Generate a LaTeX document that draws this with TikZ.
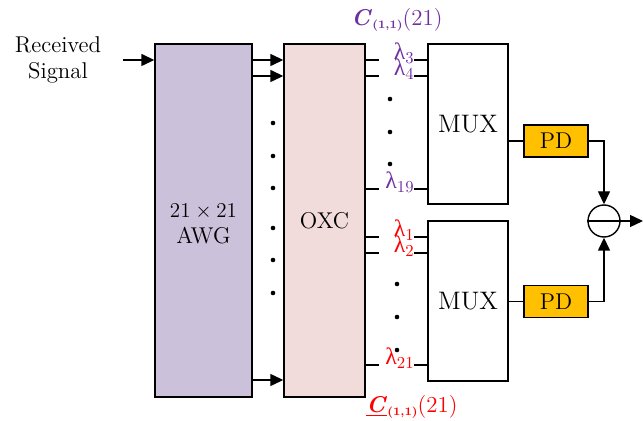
\documentclass[tikz,border=0pt]{standalone}
\usepackage{fontspec}
\usepackage{tikz}
\usetikzlibrary{arrows.meta,positioning,calc}
\newfontfamily\grk{Liberation Serif}
\definecolor{lilac}{RGB}{204,193,218}
\definecolor{blush}{RGB}{242,220,219}
\definecolor{amber}{RGB}{255,192,0}
\definecolor{grape}{RGB}{112,48,160}
\definecolor{scarlet}{RGB}{255,0,0}
\newcommand{\txt}{\fontsize{13}{15}\selectfont}
\newcommand{\sub}{\raisebox{-0.35ex}{\fontsize{6.5}{7}\selectfont\textbf{(1,1)}}(21)}
\newcommand{\lam}[1]{{\grk λ}\raisebox{-0.3ex}{\fontsize{9.5}{10}\selectfont #1}}
\tikzset{
  >={Triangle[length=2.6mm,width=2.4mm]},
  blk/.style={draw,thick,fill=#1,align=center,font=\txt,inner sep=0pt},
  blk/.default=white,
  mux/.style={blk,font=\Large,minimum width=16mm,minimum height=32mm},
  pd/.style={blk=amber,minimum width=12.8mm,minimum height=6.4mm},
  lam/.style={font=\fontsize{13.5}{15}\selectfont,text=#1,inner sep=0pt,anchor=base east},
  tag/.style={font=\fontsize{13}{15}\selectfont,text=#1,inner sep=0pt},
  wire/.style={thick},
  flow/.style={->,thick},
}
\begin{document}
\begin{tikzpicture}[x=0.2mm,y=-0.2mm]
  \useasboundingbox (0,0) rectangle (643,421);
  % blocks
  \node[font=\txt,align=center] (rx) at (58,60) {Received\\Signal};
  \node[blk=lilac,minimum width=19.4mm,minimum height=70.6mm] (awg) at (203.5,220.5) {};
  \node[font=\txt,align=center] (awgt) at (203.5,224) {$21\times 21$\\AWG};
  \node[blk=blush,minimum width=16.2mm,minimum height=70.6mm] (oxc) at (324.5,220.5) {OXC};
  \node[mux] (muxa) at (468,124) {MUX};
  \node[mux] (muxb) at (468,301) {MUX};
  \node[pd] (pda) at (556,141) {PD};
  \node[pd] (pdb) at (556,301.5) {PD};
  \node[draw,thick,circle,minimum size=6.4mm,inner sep=0pt] (sum) at (604,221) {};
  \node[tag=grape] (ca) at (397,20) {\textbf{\textit{C}}\sub};
  \node[tag=scarlet] (cb) at (412,407) {\underline{\textbf{\textit{C}}}\sub};
  \coordinate (in) at (123,60);
  \coordinate (out) at (643,221);
  % AWG side
  \draw[flow] (in) -- (awg.west |- in);
  \foreach \y in {60,76,380}
    \draw[flow] (awg.east |- 0,\y) -- (oxc.west |- 0,\y);
  \foreach \y in {123,156,188,228,260,293}
    \fill (273,\y) circle (1.3pt);
  % wavelengths
  \foreach \n/\y in {3/60,4/76,19/189} {
    \node[lam=grape] (l\n) at (414,\y) {\lam{\n}};
    \draw[wire] (oxc.east |- l\n.base) -- ++(13,0);
    \draw[wire] (l\n.base east) -- (muxa.west |- l\n.base);
  }
  \foreach \n/\y in {1/237,2/253,21/365} {
    \node[lam=scarlet] (l\n) at (414,\y) {\lam{\n}};
    \draw[wire] (oxc.east |- l\n.base) -- ++(13,0);
    \draw[wire] (l\n.base east) -- (muxb.west |- l\n.base);
  }
  \foreach \y in {99,132,164}
    \fill (390,\y) circle (1.3pt);
  \foreach \y in {284,317,350}
    \fill (397,\y) circle (1.3pt);
  % detection
  \draw[wire] (muxa.east |- pda) -- (pda);
  \draw[wire] (muxb.east |- pdb) -- (pdb);
  \draw[flow] (pda.east) -| (sum.north);
  \draw[flow] (pdb.east) -| (sum.south);
  \draw[wire] (sum.west) -- (sum.east);
  \draw[flow] (sum.east) -- (out);
\end{tikzpicture}
\end{document}
